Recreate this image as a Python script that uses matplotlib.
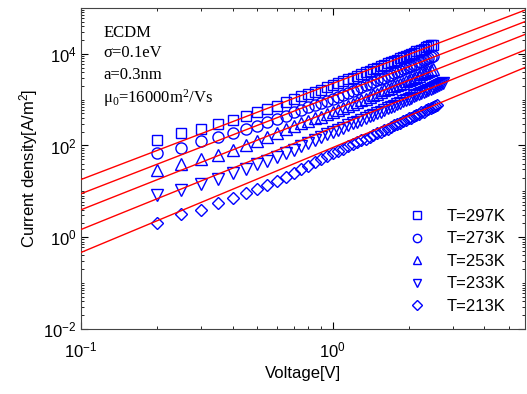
import numpy as np
import matplotlib
matplotlib.use('Agg')
import matplotlib.pyplot as plt
from matplotlib.ticker import LogLocator, NullFormatter

plt.rcParams['font.family'] = ['Liberation Sans', 'DejaVu Sans']

# voltage grid of the measured points [V]
volt = [0.20, 0.25, 0.30, 0.35, 0.40, 0.45, 0.50, 0.55, 0.60, 0.65,
        0.70, 0.75, 0.80, 0.85, 0.90, 0.95, 1.00, 1.05, 1.10, 1.15,
        1.20, 1.25, 1.30, 1.35, 1.40, 1.45, 1.50, 1.55, 1.60, 1.65,
        1.70, 1.75, 1.80, 1.85, 1.90, 1.95, 2.00, 2.05, 2.10, 2.15,
        2.20, 2.25, 2.30, 2.35, 2.40, 2.45, 2.50]
volt_ext = [2.55, 2.60, 2.65, 2.70, 2.75]

# log10 of current density [A/m^2]
logj_297 = [2.13, 2.27, 2.36, 2.46, 2.56, 2.65, 2.73, 2.80, 2.87, 2.94,
            3.01, 3.07, 3.12, 3.17, 3.22, 3.27, 3.31, 3.36, 3.40, 3.44,
            3.48, 3.52, 3.56, 3.60, 3.63, 3.66, 3.70, 3.73, 3.76, 3.79,
            3.82, 3.85, 3.87, 3.90, 3.93, 3.95, 3.98, 4.00, 4.02, 4.05,
            4.07, 4.09, 4.11, 4.14, 4.16, 4.18, 4.20]
logj_273 = [1.83, 1.95, 2.09, 2.19, 2.28, 2.35, 2.43, 2.51, 2.58, 2.65,
            2.73, 2.78, 2.83, 2.88, 2.93, 2.97, 3.01, 3.06, 3.10, 3.15,
            3.19, 3.23, 3.27, 3.31, 3.35, 3.38, 3.42, 3.45, 3.48, 3.51,
            3.54, 3.57, 3.60, 3.63, 3.66, 3.68, 3.71, 3.74, 3.76, 3.78,
            3.81, 3.83, 3.86, 3.88, 3.90, 3.92, 3.95]
logj_253 = [1.46, 1.59, 1.70, 1.80, 1.91, 2.02, 2.09, 2.19, 2.28, 2.35,
            2.42, 2.48, 2.53, 2.59, 2.63, 2.68, 2.72, 2.77, 2.82, 2.86,
            2.90, 2.95, 2.99, 3.02, 3.06, 3.10, 3.13, 3.16, 3.20, 3.23,
            3.26, 3.29, 3.32, 3.34, 3.37, 3.40, 3.42, 3.45, 3.48, 3.50,
            3.52, 3.55, 3.57, 3.60, 3.62, 3.64, 3.66]
logj_233 = [0.93, 1.04, 1.17, 1.28, 1.39, 1.49, 1.59, 1.67, 1.75, 1.83,
            1.91, 1.98, 2.05, 2.12, 2.18, 2.24, 2.29, 2.34, 2.39, 2.44,
            2.48, 2.52, 2.56, 2.60, 2.64, 2.67, 2.71, 2.74, 2.78, 2.81,
            2.84, 2.87, 2.90, 2.93, 2.96, 2.99, 3.01, 3.04, 3.07, 3.09,
            3.12, 3.14, 3.17, 3.19, 3.21, 3.24, 3.26,
            3.28, 3.30, 3.32, 3.34, 3.36]
logj_213 = [0.30, 0.50, 0.59, 0.74, 0.86, 0.96, 1.05, 1.14, 1.23, 1.31,
            1.40, 1.48, 1.56, 1.63, 1.70, 1.77, 1.83, 1.88, 1.93, 1.98,
            2.03, 2.07, 2.11, 2.15, 2.19, 2.23, 2.27, 2.30, 2.34, 2.37,
            2.41, 2.44, 2.47, 2.50, 2.53, 2.56, 2.59, 2.61, 2.64, 2.67,
            2.69, 2.72, 2.74, 2.77, 2.79, 2.82, 2.84,
            2.87, 2.89]

# fitted lines, log10 J at the two ends of the voltage axis
fit_volt = [0.1, 5.8]
fit_297 = [1.26, 4.95]
fit_273 = [0.95, 4.70]
fit_253 = [0.60, 4.42]
fit_233 = [0.17, 4.08]
fit_213 = [-0.33, 3.70]

series = [
    ('T=297K', 's', volt, logj_297, fit_297),
    ('T=273K', 'o', volt, logj_273, fit_273),
    ('T=253K', '^', volt, logj_253, fit_253),
    ('T=233K', 'v', volt + volt_ext, logj_233, fit_233),
    ('T=213K', 'D', volt + volt_ext[:2], logj_213, fit_213),
]
msize = {'s': 7, 'o': 8, '^': 8, 'v': 8, 'D': 6.5}

fig = plt.figure(figsize=(5.27, 3.94), dpi=100)
ax = fig.add_axes([0.154, 0.165, 0.842, 0.815])

for label, mk, v, lj, fit in series:
    ax.plot(fit_volt, 10 ** np.array(fit), color='red', lw=1.0, zorder=3)
    ax.plot(v, 10 ** np.array(lj), linestyle='none', marker=mk,
            markersize=msize[mk], markerfacecolor='none',
            markeredgecolor='blue', markeredgewidth=1.0, label=label)

ax.set_xscale('log')
ax.set_yscale('log')
ax.set_xlim(0.1, 5.8)
ax.set_ylim(1e-2, 1e5)
ax.set_yticks([1e-2, 1e0, 1e2, 1e4])
ax.set_xticks([0.1, 1])
ax.yaxis.set_minor_locator(LogLocator(base=10, subs=np.arange(1, 10), numticks=30))
ax.xaxis.set_minor_locator(LogLocator(base=10, subs=np.arange(1, 10), numticks=30))
ax.yaxis.set_minor_formatter(NullFormatter())
ax.xaxis.set_minor_formatter(NullFormatter())
ax.tick_params(which='both', direction='in', top=True, right=True, labelsize=12)
ax.tick_params(which='major', length=5)
ax.tick_params(which='minor', length=2.5)
ax.tick_params(axis='x', pad=8)
for s in ax.spines.values():
    s.set_color('#444444')

ax.set_xlabel('Voltage[V]', fontsize=12, labelpad=4)
ax.set_ylabel(r'Current density[A/m$\mathregular{^2}$]', fontsize=12, labelpad=2)

serif = ['Liberation Serif', 'DejaVu Serif']
notes = ['ECDM', 'σ=0.1eV', 'a=0.3nm', r'μ$\mathregular{_0}$=16000m$\mathregular{^2}$/Vs']
ys = [0.922, 0.859, 0.792, 0.719]
for t, y in zip(notes, ys):
    ax.text(0.05, y, t, transform=ax.transAxes, family=serif, fontsize=12,
            va='center', ha='left')

ax.legend(loc='lower right', bbox_to_anchor=(0.99, 0.0), frameon=False,
          fontsize=12, markerscale=0.75, handletextpad=0.75, labelspacing=0.45)

fig.savefig('out.png', dpi=100)
